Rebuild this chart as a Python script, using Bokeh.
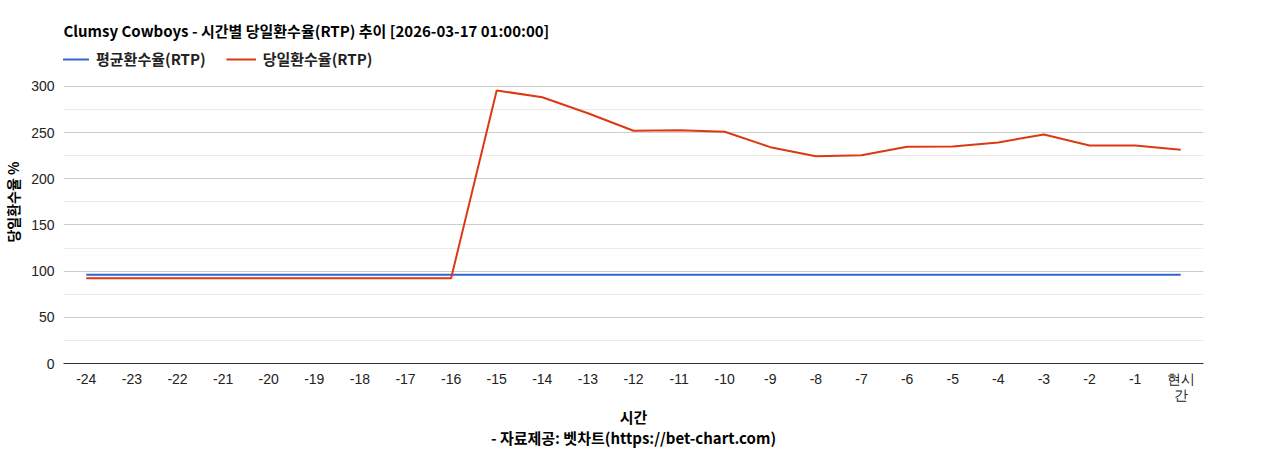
from bokeh.embed import file_html
from bokeh.models import (ColumnDataSource, FixedTicker, Legend, LegendItem,
                          Range1d, SingleIntervalTicker)
from bokeh.plotting import figure
from bokeh.resources import INLINE

# 시간 (현재 기준 몇 시간 전)
hours = [-24, -23, -22, -21, -20, -19, -18, -17, -16,
         -15, -14, -13, -12, -11, -10, -9, -8, -7,
         -6, -5, -4, -3, -2, -1, 0]
hour_labels = ["-24", "-23", "-22", "-21", "-20", "-19", "-18", "-17", "-16",
               "-15", "-14", "-13", "-12", "-11", "-10", "-9", "-8", "-7",
               "-6", "-5", "-4", "-3", "-2", "-1", "현시\n간"]

# 평균환수율(RTP)
avg_rtp = [96.0, 96.0, 96.0, 96.0, 96.0, 96.0, 96.0, 96.0, 96.0,
           96.0, 96.0, 96.0, 96.0, 96.0, 96.0, 96.0, 96.0, 96.0,
           96.0, 96.0, 96.0, 96.0, 96.0, 96.0, 96.0]

# 당일환수율(RTP)
day_rtp = [92.3, 92.3, 92.3, 92.3, 92.3, 92.3, 92.3, 92.3, 92.3,
           295.7, 288.4, 271.0, 252.0, 252.7, 250.9, 234.3, 224.5, 225.6,
           234.7, 234.9, 239.4, 248.0, 236.1, 236.1, 231.4]

KR = "Noto Sans CJK KR"
NUM = "Liberation Sans"

source = ColumnDataSource(data=dict(hour=hours, avg=avg_rtp, day=day_rtp))

# 범례가 들어갈 자리를 위해 y 범위 위쪽을 조금 더 둔다
p = figure(x_range=Range1d(-24.5, 0.5), y_range=Range1d(0, 349.8),
           width=1268, height=450,
           output_backend="svg", toolbar_location=None,
           min_border_left=63, min_border_right=65,
           min_border_top=40, min_border_bottom=87)
p.outline_line_color = None

p.title.text = "Clumsy Cowboys - 시간별 당일환수율(RTP) 추이 [2026-03-17 01:00:00]"
p.title.text_font = KR
p.title.text_font_style = "bold"
p.title.text_font_size = "15px"
p.title.text_color = "#000000"
p.title.align = "left"
p.title.offset = 0
p.title.standoff = 0

r_avg = p.line("hour", "avg", source=source, line_color="#3366cc", line_width=2)
r_day = p.line("hour", "day", source=source, line_color="#dc3912", line_width=2)

# 축
p.yaxis.ticker = SingleIntervalTicker(interval=50, num_minor_ticks=2)
p.yaxis.bounds = (0, 300)
p.yaxis.axis_line_color = None
p.yaxis.major_tick_line_color = None
p.yaxis.minor_tick_line_color = None
p.yaxis.major_tick_out = 0
p.yaxis.minor_tick_out = 0
p.yaxis.major_label_text_font = NUM
p.yaxis.major_label_text_font_size = "14px"
p.yaxis.major_label_text_color = "#222222"
p.yaxis.major_label_standoff = 9
p.yaxis.axis_label = "당일환수율 %"
p.yaxis.axis_label_text_font = KR
p.yaxis.axis_label_text_font_style = "bold"
p.yaxis.axis_label_text_font_size = "14px"
p.yaxis.axis_label_text_color = "#000000"
p.yaxis.axis_label_standoff = 5

p.xaxis.ticker = FixedTicker(ticks=hours)
p.xaxis.axis_line_color = "#333333"
p.xaxis.major_tick_line_color = None
p.xaxis.minor_tick_line_color = None
p.xaxis.major_tick_out = 0
p.xaxis.minor_tick_out = 0
p.xaxis.major_label_text_font = NUM
p.xaxis.major_label_text_font_size = "14px"
p.xaxis.major_label_text_color = "#222222"
p.xaxis.major_label_text_line_height = 1.0
p.xaxis.major_label_standoff = 7
p.xaxis.major_label_overrides = dict(zip(hours, hour_labels))
p.xaxis.axis_label = "시간\n- 자료제공: 벳차트(https://bet-chart.com)"
p.xaxis.axis_label_text_font = KR
p.xaxis.axis_label_text_font_style = "bold"
p.xaxis.axis_label_text_font_size = "15px"
p.xaxis.axis_label_text_color = "#000000"
p.xaxis.axis_label_text_line_height = 1.0
p.xaxis.axis_label_standoff = 0

p.xgrid.grid_line_color = None
p.ygrid.grid_line_color = "#cccccc"
p.ygrid.minor_grid_line_color = "#ebebeb"
p.ygrid.bounds = (0, 300)

# 범례 (플롯 영역 맨 위)
legend = Legend(items=[LegendItem(label="평균환수율(RTP)", renderers=[r_avg]),
                       LegendItem(label="당일환수율(RTP)", renderers=[r_day])],
                orientation="horizontal", location=(-4, 294),
                margin=0, padding=4, spacing=20,
                glyph_width=30, label_standoff=7,
                label_text_font=KR, label_text_font_style="bold",
                label_text_font_size="15px", label_text_color="#222222",
                border_line_color=None, background_fill_alpha=0)
p.add_layout(legend, "center")

open("out.html", "w").write(file_html(p, INLINE))
